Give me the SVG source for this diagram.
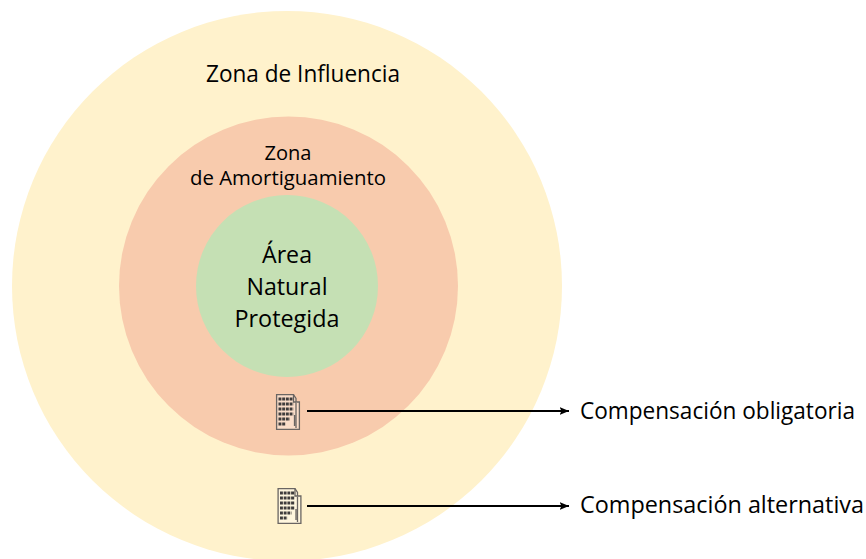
<svg xmlns="http://www.w3.org/2000/svg" width="866" height="559" viewBox="0 0 866 559">
<style>
text{font-family:"Open Sans","Noto Sans","Liberation Sans",sans-serif;fill:#000;text-anchor:middle}
.a{font-size:23.500px}.b{font-size:20px}.c{font-size:24px}.d{font-size:23px;text-anchor:start}
.l{stroke:#000;stroke-width:2;fill:none}
.f{fill:none;stroke:#6a6562;stroke-width:1.300}
.w{fill:#fff;fill-opacity:.35;stroke:#6a6562;stroke-width:1.300}
.g{fill:none;stroke:#3f3c3c;stroke-width:2.800;stroke-dasharray:2.900 .8}
</style>
<defs>
<marker id="arrow" markerUnits="userSpaceOnUse" markerWidth="10" markerHeight="8" refX="9.500" refY="4" orient="auto"><path d="M0 0L9.500 4L0 8L2 4Z" fill="#000"/></marker>
<g id="doc">
<path class="w" d="M.6 .6H17.500L20 4.500V8H23.400V35.400H.6Z"/>
<path class="f" d="M17.500 .6V8H20M20 9V34M18.500 21V32"/>
<path class="g" d="M2.500 5H17.500M2.500 10H17.500M2.500 15H17.500M2.500 20H17.500M2.500 25H14M2.500 30H10"/>
</g>
</defs>
<g id="zona-influencia"><circle cx="287" cy="286" r="275" fill="#fff2cc"/><text class="a" x="303" y="82" textLength="194" lengthAdjust="spacingAndGlyphs">Zona de Influencia</text></g>
<g id="zona-amortiguamiento"><circle cx="288.500" cy="286" r="169.500" fill="#f8cbad"/><text class="b" x="288" y="160" textLength="47" lengthAdjust="spacingAndGlyphs">Zona</text><text class="b" x="288" y="185" textLength="196" lengthAdjust="spacingAndGlyphs">de Amortiguamiento</text></g>
<g id="area-natural"><circle cx="287" cy="286" r="91" fill="#c5e0b4"/><text class="c" x="287" y="263" textLength="50" lengthAdjust="spacingAndGlyphs">Área</text><text class="c" x="287" y="295" textLength="81" lengthAdjust="spacingAndGlyphs">Natural</text><text class="c" x="287" y="327" textLength="105" lengthAdjust="spacingAndGlyphs">Protegida</text></g>
<g id="doc-obligatoria"><use href="#doc" x="276" y="394"/></g>
<g id="doc-alternativa"><use href="#doc" x="277.500" y="488"/></g>
<g id="connectors"><line class="l" x1="307" y1="411" x2="569" y2="411" marker-end="url(#arrow)"/><line class="l" x1="307" y1="506" x2="569" y2="506" marker-end="url(#arrow)"/></g>
<g id="label-obligatoria"><text class="d" x="580" y="419" textLength="275" lengthAdjust="spacingAndGlyphs">Compensación obligatoria</text></g>
<g id="label-alternativa"><text class="d" x="580" y="513" textLength="284" lengthAdjust="spacingAndGlyphs">Compensación alternativa</text></g>
</svg>
